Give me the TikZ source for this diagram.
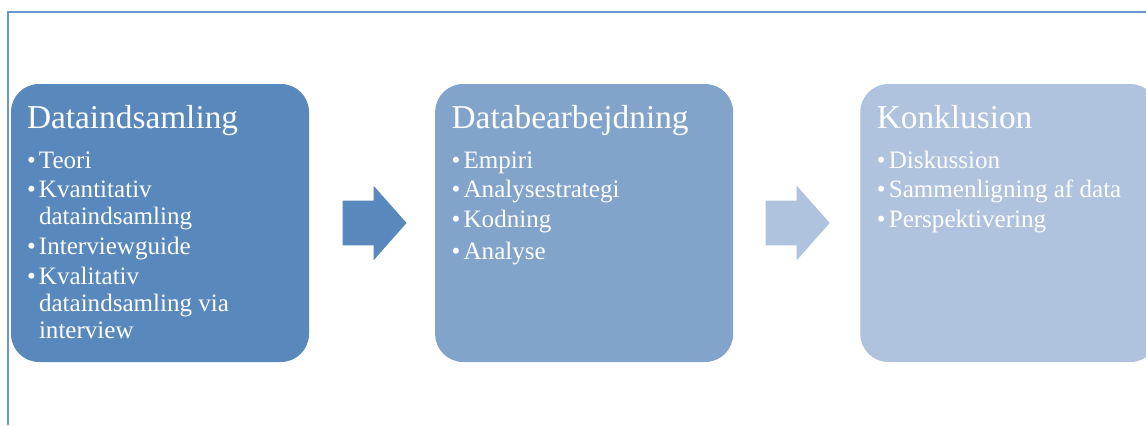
\documentclass[tikz,border=0pt]{standalone}
\usepackage{fontspec}
\setmainfont{Liberation Serif}
\usetikzlibrary{shapes.arrows,positioning}

\definecolor{ramme}{RGB}{104,150,204}
\definecolor{fase1}{RGB}{88,136,188}
\definecolor{fase2}{RGB}{130,164,203}
\definecolor{fase3}{RGB}{176,195,222}
\newcommand{\punkt}{\rule{0pt}{15pt}\makebox[9pt][l]{\textbullet}}
\newcommand{\ind}{\hspace*{9pt}}

\begin{document}
\begin{tikzpicture}[x=0.75pt,y=-0.75pt]
\tikzstyle{fase}=[rectangle,rounded corners=21pt,minimum width=223.5pt,minimum height=208.5pt,inner sep=0pt]
\tikzstyle{pil}=[single arrow,minimum height=48pt,minimum width=55.5pt,single arrow head extend=11.25pt,single arrow tip angle=97,inner xsep=0pt,inner ysep=16.5pt]
\tikzstyle{titel}=[text=white,font=\fontsize{25}{30}\selectfont,anchor=base west,inner sep=0pt]
\tikzstyle{punkter}=[text=white,font=\fontsize{18.8}{20.25}\selectfont,align=left,anchor=north west,inner sep=0pt]
\clip (0,0) rectangle (1146,425);
\draw[ramme,line width=1.5pt] (7.5,425) |- (1146,12);

\node[fase,fill=fase1] (samling) at (160,223) {};
\node[pil,fill=fase1,right=24.75pt of samling] (pil1) {};
\node[fase,fill=fase2,right=21pt of pil1] (bearbejdning) {};
\node[pil,fill=fase3,right=24pt of bearbejdning] (pil2) {};
\node[fase,fill=fase3,right=22.5pt of pil2] (konklusion) {};

\node[titel] (samlingT) at ([shift={(16,45)}]samling.north west) {Dataindsamling};
\node[punkter] (samlingL) at ([shift={(16,64)}]samling.north west)
  {\punkt Teori\\[2pt]
   \punkt Kvantitativ\\\ind dataindsamling\\[2pt]
   \punkt Interviewguide\\[2pt]
   \punkt Kvalitativ\\\ind dataindsamling via\\\ind interview};

\node[titel] (bearbejdningT) at ([shift={(16.5,45)}]bearbejdning.north west) {Databearbejdning};
\node[punkter] (bearbejdningL) at ([shift={(16.5,64)}]bearbejdning.north west)
  {\punkt Empiri\\[2pt]
   \punkt Analysestrategi\\[2pt]
   \punkt Kodning\\[4pt]
   \punkt Analyse};

\node[titel] (konklusionT) at ([shift={(16.5,45)}]konklusion.north west) {Konklusion};
\node[punkter] (konklusionL) at ([shift={(16.5,64)}]konklusion.north west)
  {\punkt Diskussion\\[2pt]
   \punkt Sammenligning af data\\[2pt]
   \punkt Perspektivering};
\end{tikzpicture}
\end{document}
